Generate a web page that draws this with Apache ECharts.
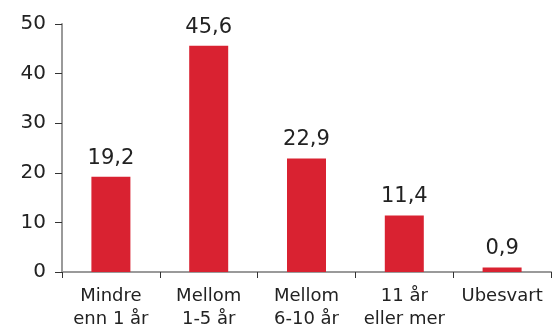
<!DOCTYPE html>
<html>
<head>
<meta charset="utf-8">
<script src="https://cdn.jsdelivr.net/npm/echarts@6/dist/echarts.min.js"></script>
<style>
  html, body { margin: 0; padding: 0; background: #fff; }
  #chart { width: 557px; height: 327px; }
</style>
</head>
<body>
<div id="chart"></div>
<script>
  'use strict';

  const categories = ['Mindre\nenn 1 år', 'Mellom\n1-5 år', 'Mellom\n6-10 år', '11 år\neller mer', 'Ubesvart'];
  const values = [19.2, 45.6, 22.9, 11.4, 0.9];
  const yTicks = [0, 10, 20, 30, 40, 50];

  const fontFamily = 'Verdana, "DejaVu Sans", sans-serif';
  const chart = echarts.init(document.getElementById('chart'), null, { renderer: 'canvas' });

  chart.setOption({
    animation: false,
    grid: { left: 62, right: 6, top: 24, bottom: 55, containLabel: false, outerBoundsMode: 'none' },
    xAxis: {
      type: 'category',
      data: categories,
      boundaryGap: true,
      axisLine: { lineStyle: { color: '#9a9a9a', width: 2 } },
      axisTick: { show: true, length: 6, lineStyle: { color: '#333', width: 1 } },
      axisLabel: {
        color: '#222',
        fontFamily: fontFamily,
        fontSize: 18,
        lineHeight: 23,
        margin: 13,
        interval: 0
      }
    },
    yAxis: {
      type: 'value',
      min: yTicks[0],
      max: yTicks[yTicks.length - 1],
      interval: 10,
      axisLine: { show: true, lineStyle: { color: '#9a9a9a', width: 2 } },
      axisTick: { show: true, length: 7, lineStyle: { color: '#333', width: 1 } },
      splitLine: { show: false },
      axisLabel: {
        color: '#222',
        fontFamily: fontFamily,
        fontSize: 20,
        margin: 16
      }
    },
    series: [
      {
        type: 'bar',
        data: values,
        barWidth: 39,
        itemStyle: { color: '#d92231' },
        label: {
          show: true,
          position: 'top',
          distance: 8,
          color: '#222',
          fontFamily: fontFamily,
          fontSize: 21,
          formatter: function (p) {
            return String(p.value).replace('.', ',');
          }
        }
      }
    ]
  });
</script>
</body>
</html>
